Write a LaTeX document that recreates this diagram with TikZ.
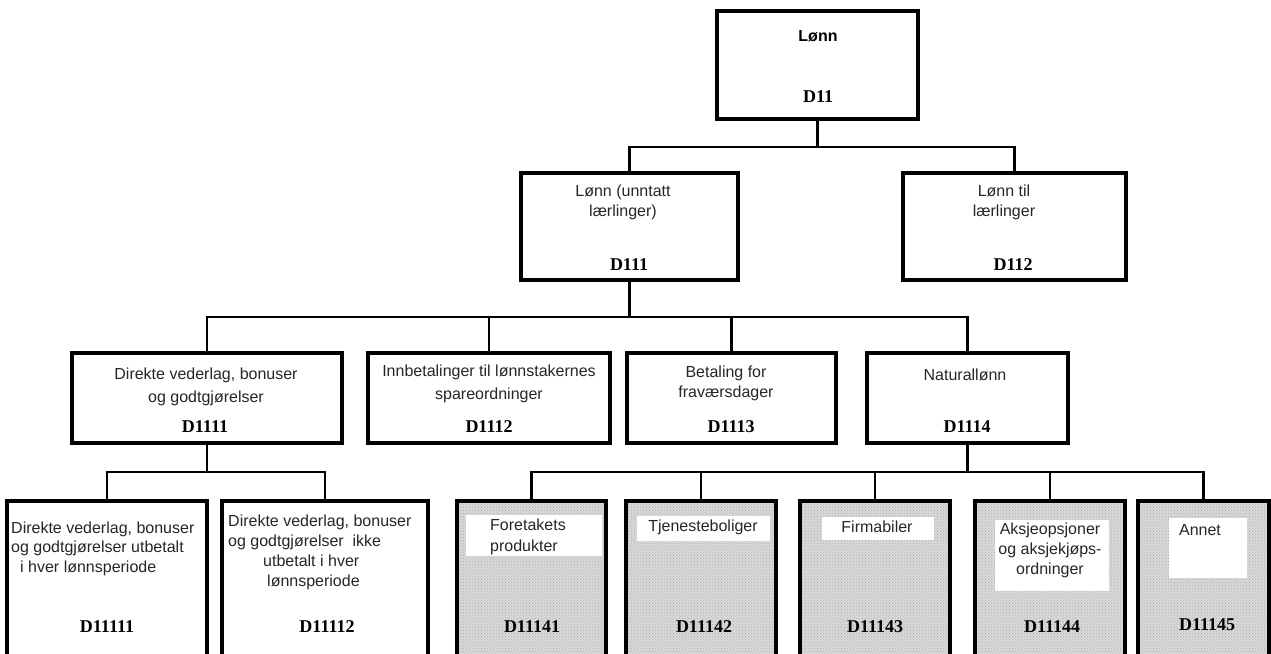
\documentclass[tikz,border=0pt]{standalone}
\usepackage{fontspec}
\setmainfont{Liberation Serif}
\setsansfont{Liberation Sans}
\usetikzlibrary{patterns}
\begin{document}
\begin{tikzpicture}[x=1pt,y=-1pt,
  box/.style={draw, line width=3.5pt, inner sep=0pt, fill=white},
  shaded/.style={draw, line width=3.5pt, inner sep=0pt, preaction={fill=black!15}, pattern=crosshatch dots, pattern color=black!32},
  conn/.style={line width=2.6pt},
  txt/.style={font=\sffamily\fontsize{16}{20}\selectfont, text=black!85, align=center, inner sep=0pt},
  code/.style={font=\rmfamily\bfseries\fontsize{18}{20}\selectfont, inner sep=0pt},
  label/.style={fill=white}]
\clip (0,0) rectangle (1271,653);
\fill[white] (0,0) rectangle (1271,653);
% level 1
\node[box, minimum width=201pt, minimum height=108pt] (d11) at (817.5,65) {};
% level 2
\node[box, minimum width=217pt, minimum height=107pt] (d111) at (629.5,226.5) {};
\node[box, minimum width=223pt, minimum height=107pt] (d112) at (1014.5,226.5) {};
% level 3
\node[box, minimum width=270pt, minimum height=90pt] (d1111) at (207,398) {};
\node[box, minimum width=242pt, minimum height=90pt] (d1112) at (489,398) {};
\node[box, minimum width=209pt, minimum height=90pt] (d1113) at (731.5,398) {};
\node[box, minimum width=201pt, minimum height=90pt] (d1114) at (967.5,398) {};
% level 4
\node[box, minimum width=200pt, minimum height=164pt] (d11111) at (107,583) {};
\node[box, minimum width=206pt, minimum height=164pt] (d11112) at (325,583) {};
\node[shaded, minimum width=149pt, minimum height=164pt] (d11141) at (531.5,583) {};
\node[shaded, minimum width=150pt, minimum height=164pt] (d11142) at (701,583) {};
\node[shaded, minimum width=150pt, minimum height=164pt] (d11143) at (875,583) {};
\node[shaded, minimum width=150pt, minimum height=164pt] (d11144) at (1050,583) {};
\node[shaded, minimum width=131pt, minimum height=164pt] (d11145) at (1203.5,583) {};
% white label areas
\fill[label] (466,515) rectangle (602,556);
\fill[label] (637,516) rectangle (770,541);
\fill[label] (822,517) rectangle (934,540);
\fill[label] (995,520) rectangle (1109,591);
\fill[label] (1169,518) rectangle (1247,578);
% connectors
\coordinate (b1) at (0,147);
\coordinate (b2) at (0,317);
\coordinate (b3) at (0,472);
\draw[conn] (d11.south) -- (d11.south |- b1);
\draw[conn] (d111.north) |- (d112.north |- b1) -- (d112.north);
\draw[conn] (d111.south) -- (d111.south |- b2);
\draw[conn] (d1111.north) |- (d1114.north |- b2) -- (d1114.north);
\draw[conn] (d1112.north) -- (d1112.north |- b2);
\draw[conn] (d1113.north) -- (d1113.north |- b2);
\draw[conn] (d1111.south) -- (d1111.south |- b3);
\draw[conn] (d11111.north) |- (d11112.north |- b3) -- (d11112.north);
\draw[conn] (d1114.south) -- (d1114.south |- b3);
\draw[conn] (d11141.north) |- (d11145.north |- b3) -- (d11145.north);
\draw[conn] (d11142.north) -- (d11142.north |- b3);
\draw[conn] (d11143.north) -- (d11143.north |- b3);
\draw[conn] (d11144.north) -- (d11144.north |- b3);
% texts
\node[txt, font=\sffamily\bfseries\fontsize{16}{20}\selectfont, text=black] (t11) at (818,36) {Lønn};
\node[code] (c11) at (818,97) {D11};
\node[txt] (t111) at (623,202.5) {Lønn (unntatt\\lærlinger)};
\node[code] (c111) at (629,265) {D111};
\node[txt] (t112) at (1004,202.5) {Lønn til\\lærlinger};
\node[code] (c112) at (1013,265) {D112};
\node[txt, font=\sffamily\fontsize{16}{23}\selectfont] (t1111) at (206,386.5) {Direkte vederlag, bonuser\\og godtgjørelser};
\node[code] (c1111) at (205,427) {D1111};
\node[txt, font=\sffamily\fontsize{16}{23}\selectfont] (t1112) at (489,383.5) {Innbetalinger til lønnstakernes\\spareordninger};
\node[code] (c1112) at (489,427) {D1112};
\node[txt] (t1113) at (726,383) {Betaling for\\fraværsdager};
\node[code] (c1113) at (731,427) {D1113};
\node[txt] (t1114) at (965,375) {Naturallønn};
\node[code] (c1114) at (967,427) {D1114};
\node[txt, align=left, anchor=west, font=\sffamily\fontsize{16}{19.5}\selectfont] (t11111) at (11,548.5) {Direkte vederlag, bonuser\\og godtgjørelser utbetalt\\\hspace*{9pt}i hver lønnsperiode};
\node[code] (c11111) at (107,627) {D11111};
\node[txt, align=left, anchor=west, font=\sffamily\fontsize{16}{20}\selectfont] (t11112) at (228,552) {Direkte vederlag, bonuser\\og godtgjørelser\ \ ikke\\\hspace*{35pt}utbetalt i hver\\\hspace*{39pt}lønnsperiode};
\node[code] (c11112) at (327,627) {D11112};
\node[txt, align=left, font=\sffamily\fontsize{16}{21}\selectfont] (t11141) at (528,536.5) {Foretakets\\produkter};
\node[code] (c11141) at (532,627) {D11141};
\node[txt] (t11142) at (703,527) {Tjenesteboliger};
\node[code] (c11142) at (704,627) {D11142};
\node[txt] (t11143) at (877,527) {Firmabiler};
\node[code] (c11143) at (875,627) {D11143};
\node[txt] (t11144) at (1050,550) {Aksjeopsjoner\\og aksjekjøps-\\ordninger};
\node[code] (c11144) at (1052,627) {D11144};
\node[txt] (t11145) at (1200,530) {Annet};
\node[code] (c11145) at (1207,625) {D11145};
\end{tikzpicture}
\end{document}
